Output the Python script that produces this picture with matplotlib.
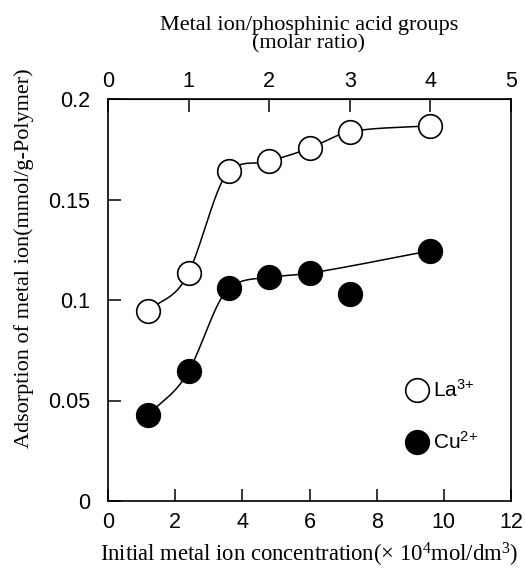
import numpy as np
import matplotlib
matplotlib.use("Agg")
import matplotlib.pyplot as plt

# Initial metal ion concentration (x 10^4 mol/dm^3)
conc = [1.2, 2.4, 3.6, 4.8, 6.0, 7.2, 9.6]
# Adsorbed amount (mmol/g-Polymer)
la_ads = [0.0945, 0.1135, 0.164, 0.169, 0.1755, 0.1837, 0.1867]
cu_ads = [0.0428, 0.0645, 0.1058, 0.1113, 0.1133, 0.1028, 0.1245]
# points used for the Cu guide curve (the 7.2 point is left off the curve)
cu_on_curve = [True, True, True, True, True, False, True]

xticks = [0, 2, 4, 6, 8, 10, 12]
yticks = [0, 0.05, 0.1, 0.15, 0.2]
yticklabels = ["0", "0.05", "0.1", "0.15", "0.2"]
ratio_ticks = [0, 1, 2, 3, 4, 5]
conc_per_ratio = 2.4   # concentration units per unit molar ratio


def guide_curve(x, y, xs, fwd=0.7):
    """Cubic Hermite guide line; node tangents lean on the forward secant."""
    x = np.asarray(x, float)
    y = np.asarray(y, float)
    h = np.diff(x)
    d = np.diff(y) / h
    n = len(x)
    m = np.empty(n)
    m[0] = d[0]
    m[-1] = d[-1]
    m[1:-1] = fwd * d[1:] + (1 - fwd) * d[:-1]
    k = np.clip(np.searchsorted(x, xs) - 1, 0, n - 2)
    t = (xs - x[k]) / h[k]
    h00 = 2 * t**3 - 3 * t**2 + 1
    h10 = t**3 - 2 * t**2 + t
    h01 = -2 * t**3 + 3 * t**2
    h11 = t**3 - t**2
    return h00 * y[k] + h10 * h[k] * m[k] + h01 * y[k + 1] + h11 * h[k] * m[k + 1]


serif = "Liberation Serif"
sans = "Liberation Sans"
W, H = 525, 569

fig = plt.figure(figsize=(W / 100, H / 100), dpi=100)
ax = fig.add_axes([108 / W, 1 - 501 / H, 403 / W, 402 / H])

# guide curves
xs = np.linspace(conc[0], conc[-1], 500)
ax.plot(xs, guide_curve(conc, la_ads, xs), color="black", lw=1.1, zorder=1)
cx = np.array([c for c, f in zip(conc, cu_on_curve) if f])
cy = np.array([v for v, f in zip(cu_ads, cu_on_curve) if f])
ax.plot(xs, guide_curve(cx, cy, xs), color="black", lw=1.1, zorder=1)

# data points
ax.plot(conc, la_ads, "o", ms=17, mfc="white", mec="black", mew=1.2,
        ls="none", zorder=3, label="$\\mathregular{La^{3{+}}}$")
ax.plot(conc, cu_ads, "o", ms=17, mfc="black", mec="black", mew=1.2,
        ls="none", zorder=3, label="$\\mathregular{Cu^{2{+}}}$")

ax.set_xlim(0, 12)
ax.set_ylim(0, 0.2)
ax.set_xticks(xticks)
ax.set_yticks(yticks)
ax.set_yticklabels(yticklabels)
for sp in ax.spines.values():
    sp.set_linewidth(1.2)
ax.tick_params(axis="x", direction="in", length=9, width=1.1, pad=8,
               labelsize=15.5)
ax.tick_params(axis="y", direction="in", length=9, width=1.1, pad=13,
               labelsize=15.5)
for lab in ax.get_xticklabels() + ax.get_yticklabels():
    lab.set_fontfamily(sans)

# top axis: molar ratio of metal ion to phosphinic acid groups
top = ax.secondary_xaxis("top", functions=(lambda c: c / conc_per_ratio,
                                           lambda r: r * conc_per_ratio))
top.set_xticks(ratio_ticks)
top.tick_params(direction="in", length=9, width=1.1, pad=5, labelsize=15.5)
for lab in top.get_xticklabels():
    lab.set_fontfamily(sans)

ax.legend(loc="upper left", bbox_to_anchor=((404 - 108) / 403, (501 - 379) / 402),
          frameon=False, prop={"family": sans, "size": 15}, labelspacing=1.45,
          handletextpad=0.2, handlelength=1.2, borderaxespad=0, borderpad=0)

fig.text(309 / W, 1 - 48 / H,
         "Metal ion/phosphinic acid groups\n(molar ratio)",
         ha="center", va="baseline", family=serif, fontsize=16,
         linespacing=0.9, multialignment="center")
fig.text(309 / W, 1 - 562 / H,
         "Initial metal ion concentration(\u00d7 10$\\mathregular{^4}$mol/dm$\\mathregular{^3}$)",
         ha="center", va="baseline", family=serif, fontsize=16.3)
fig.text(24 / W, 1 - 258 / H,
         "Adsorption of metal ion(mmol/g-Polymer)",
         ha="center", va="center", rotation=90, family=serif, fontsize=16)

fig.savefig("out.png", dpi=100)
